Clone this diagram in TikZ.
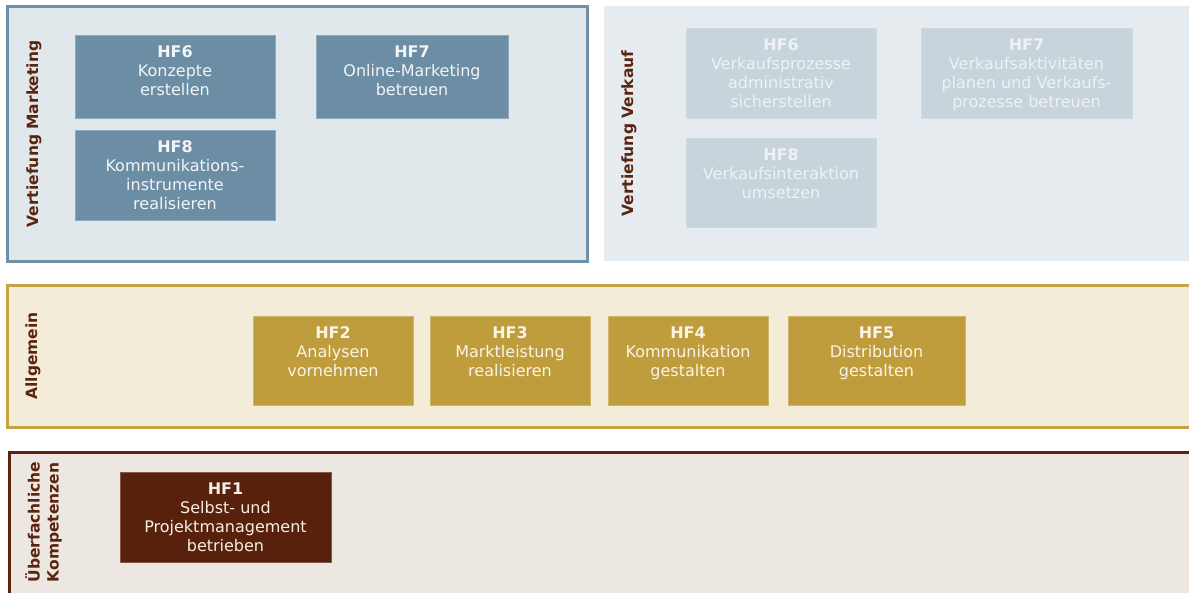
\documentclass[tikz,border=0pt]{standalone}
\usepackage{fontspec}
\setmainfont{DejaVu Sans}
\usetikzlibrary{positioning}

\definecolor{mkedge}{HTML}{6F8FA6}
\definecolor{mkfill}{HTML}{E1E8EC}
\definecolor{mkbox}{HTML}{6C8EA5}
\definecolor{mktext}{HTML}{F2F4F5}
\definecolor{vkfill}{HTML}{E6EBEF}
\definecolor{vkbox}{HTML}{C8D4DC}
\definecolor{vktext}{HTML}{EEF2F4}
\definecolor{aledge}{HTML}{C5A446}
\definecolor{alfill}{HTML}{F3ECD8}
\definecolor{albox}{HTML}{BF9D3C}
\definecolor{altext}{HTML}{FAF4E6}
\definecolor{ukedge}{HTML}{5B2210}
\definecolor{ukfill}{HTML}{ECE7E0}
\definecolor{ukbox}{HTML}{58210C}
\definecolor{uktext}{HTML}{F5EEE6}
\definecolor{lbl}{HTML}{5B2411}

\begin{document}
\begin{tikzpicture}[x=1pt,y=-1pt,
	panel/.style={rectangle,inner sep=0pt,outer sep=0pt,line width=3pt},
	hfbox/.style={rectangle,inner sep=0pt,outer sep=0pt,line width=0.8pt},
	boxtext/.style={anchor=north,align=center,inner xsep=0pt,inner ysep=10.8pt,text=#1,font=\fontsize{16}{19}\selectfont},
	sidelabel/.style={rotate=90,align=left,text=lbl,font=\fontsize{15.5}{19}\selectfont\bfseries}]

	\useasboundingbox (0,0) rectangle (1189,592);

	% panels
	\node[panel,draw=mkedge,fill=mkfill,minimum width=579.5pt,minimum height=254.5pt] (p_mk) at (297.25,133.75) {};
	\node[panel,fill=vkfill,minimum width=591pt,minimum height=255pt] (p_vk) at (899.5,133.5) {};
	\node[panel,draw=aledge,fill=alfill,minimum width=1192.5pt,minimum height=142pt] (p_al) at (603.75,356.5) {};
	\node[panel,draw=ukedge,fill=ukfill,minimum width=1190.5pt,minimum height=148pt] (p_uk) at (604.75,526) {};

	\node[sidelabel] (l_mk) at (34,134) {Vertiefung Marketing};
	\node[sidelabel] (l_vk) at (629,133.5) {Vertiefung Verkauf};
	\node[sidelabel] (l_al) at (33,356) {Allgemein};
	\node[sidelabel] (l_uk) at (43.5,522) {Überfachliche\\Kompetenzen};

	% Vertiefung Marketing
	\node[hfbox,fill=mkbox,draw=mkbox!75!white,minimum width=200pt,minimum height=83pt,
		label={[boxtext=mktext]90:{\textbf{HF6}\\Konzepte\\erstellen}}] (mk_6) at (175,76.5) {};
	\node[hfbox,fill=mkbox,draw=mkbox!75!white,minimum width=192pt,minimum height=83pt,
		label={[boxtext=mktext]90:{\textbf{HF7}\\Online-Marketing\\betreuen}}] (mk_7) [right=41pt of mk_6] {};
	\node[hfbox,fill=mkbox,draw=mkbox!75!white,minimum width=200pt,minimum height=90pt,
		label={[boxtext=mktext]90:{\textbf{HF8}\\Kommunikations-\\instrumente\\realisieren}}] (mk_8) [below=12pt of mk_6] {};

	% Vertiefung Verkauf
	\node[hfbox,fill=vkbox,draw=vkbox!85!white,minimum width=190pt,minimum height=90pt,
		label={[boxtext=vktext]90:{\textbf{HF6}\\Verkaufsprozesse\\administrativ\\sicherstellen}}] (vk_6) at (781,73) {};
	\node[hfbox,fill=vkbox,draw=vkbox!85!white,minimum width=211pt,minimum height=90pt,
		label={[boxtext=vktext]90:{\textbf{HF7}\\Verkaufsaktivitäten\\planen und Verkaufs-\\prozesse betreuen}}] (vk_7) [right=45pt of vk_6] {};
	\node[hfbox,fill=vkbox,draw=vkbox!85!white,minimum width=190pt,minimum height=89pt,
		label={[boxtext=vktext]90:{\textbf{HF8}\\Verkaufsinteraktion\\umsetzen}}] (vk_8) [below=20pt of vk_6] {};

	% Allgemein
	\node[hfbox,fill=albox,draw=albox!75!white,minimum width=160pt,minimum height=89pt,
		label={[boxtext=altext]90:{\textbf{HF2}\\Analysen\\vornehmen}}] (al_2) at (333,360.5) {};
	\node[hfbox,fill=albox,draw=albox!75!white,minimum width=160pt,minimum height=89pt,
		label={[boxtext=altext]90:{\textbf{HF3}\\Marktleistung\\realisieren}}] (al_3) [right=17pt of al_2] {};
	\node[hfbox,fill=albox,draw=albox!75!white,minimum width=160pt,minimum height=89pt,
		label={[boxtext=altext]90:{\textbf{HF4}\\Kommunikation\\gestalten}}] (al_4) [right=18pt of al_3] {};
	\node[hfbox,fill=albox,draw=albox!75!white,minimum width=177pt,minimum height=89pt,
		label={[boxtext=altext]90:{\textbf{HF5}\\Distribution\\gestalten}}] (al_5) [right=20pt of al_4] {};

	% Ueberfachliche Kompetenzen
	\node[hfbox,fill=ukbox,draw=ukbox!75!white,minimum width=211pt,minimum height=90pt,
		label={[boxtext=uktext]90:{\textbf{HF1}\\Selbst- und\\Projektmanagement\\betrieben}}] (uk_1) at (225.5,517) {};

\end{tikzpicture}
\end{document}
